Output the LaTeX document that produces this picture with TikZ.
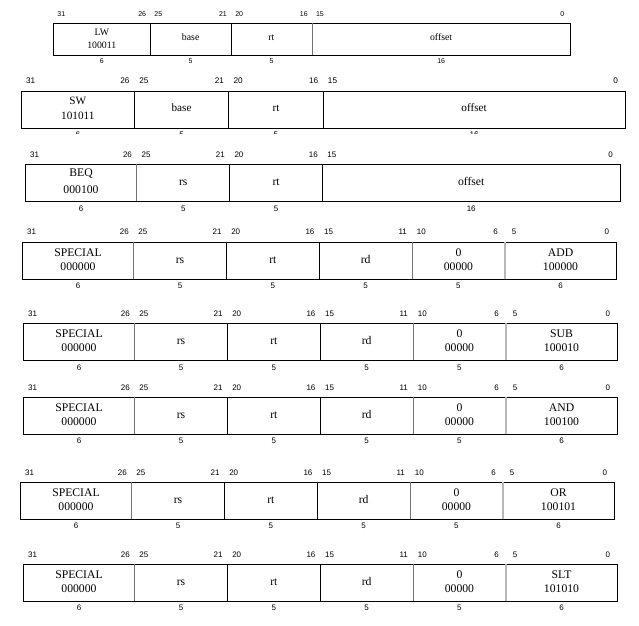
\documentclass[tikz,border=0pt]{standalone}
\usepackage{fontspec}
\setmainfont{Liberation Serif}
\newfontfamily\numfont{Liberation Sans}

% row geometry: name, x0, ytop, bit width, height, top-label baseline, bottom-label baseline
\newcommand\rowgeom[7]{%
  \def\RN{#1}\def\RX{#2}\def\RY{#3}\def\RBW{#4}\def\RH{#5}%
  \def\RTB{#6}\def\RBB{#7}%
  \pgfmathsetmacro\RC{#3+#5/2}%
  \draw[boxline] (\RX,\RY) rectangle ({\RX+32*\RBW},{\RY+\RH});%
}
% row text: serif size, sans size, single-line offset, line1 offset, line2 offset
\newcommand\rowtext[5]{%
  \def\RFS{#1}\def\RNS{#2}\def\RS{#3}\def\RBa{#4}\def\RBb{#5}%
}
% one field: hi bit, lo bit, line 1, line 2 (may be empty), divider style
\newcommand\fld[5]{%
  \pgfmathsetmacro\xl{\RX+(31-#1)*\RBW}%
  \pgfmathsetmacro\xr{\RX+(32-#2)*\RBW}%
  \pgfmathsetmacro\xm{(\xl+\xr)/2}%
  \pgfmathtruncatemacro\nb{#1-#2+1}%
  \ifnum#1<31 \draw[#5] (\xl,\RY) -- (\xl,{\RY+\RH});\fi
  \node[numlbl] (\RN-h#1) at ({\RX+(31-#1+0.5)*\RBW},\RTB) {#1};
  \node[numlbl] (\RN-l#1) at ({\RX+(31-#2+0.5)*\RBW},\RTB) {#2};
  \node[numlbl] (\RN-w#1) at (\xm,\RBB) {\nb};
  \if\relax\detokenize{#4}\relax
    \node[fldtxt] (\RN-t#1) at (\xm,{\RC+\RS}) {#3};
  \else
    \node[fldtxt] (\RN-t#1) at (\xm,{\RC+\RBa}) {#3};
    \node[fldtxt] (\RN-u#1) at (\xm,{\RC+\RBb}) {#4};
  \fi
}
% R-type row: name, x0, ytop, top baseline, bottom baseline, mnemonic, code
\newcommand\rtype[7]{%
  \rowgeom{#1}{#2}{#3}{18.56}{37}{#4}{#5}%
  \rowtext{11.7}{8}{2.6}{-3.9}{9.9}%
  \fld{31}{26}{SPECIAL}{000000}{divk}%
  \fld{25}{21}{rs}{}{divg}%
  \fld{20}{16}{rt}{}{divk}%
  \fld{15}{11}{rd}{}{divk}%
  \fld{10}{6}{0}{00000}{divg}%
  \fld{5}{0}{#6}{#7}{divl}%
}

\begin{document}
\begin{tikzpicture}[x=1pt, y=-1pt,
  boxline/.style={draw=black, line width=0.7pt},
  divk/.style={draw=black, line width=0.7pt},
  divg/.style={draw=black!55, line width=0.7pt},
  divl/.style={draw=black!28, line width=1.4pt},
  numlbl/.style={font=\numfont\fontsize{\RNS}{\RNS}\selectfont, inner sep=0pt, anchor=base},
  fldtxt/.style={font=\fontsize{\RFS}{\RFS}\selectfont, inner sep=0pt, anchor=base}]
\useasboundingbox (0,0) rectangle (639,625);

% LW
\rowgeom{lw}{53.3}{23.3}{16.16}{32}{16.5}{63.5}
\rowtext{9.8}{7}{1.3}{-3.5}{9.5}
\fld{31}{26}{LW}{100011}{divk}
\fld{25}{21}{base}{}{divk}
\fld{20}{16}{rt}{}{divk}
\fld{15}{0}{offset}{}{divg}

% SW (its bottom labels are cut off)
\begin{scope}
\clip (0,0) rectangle (639,133.8);
\rowgeom{sw}{21.2}{91}{18.87}{37}{83.6}{137.5}
\rowtext{11.2}{8.2}{2}{-4.9}{10.2}
\fld{31}{26}{SW}{101011}{divk}
\fld{25}{21}{base}{}{divk}
\fld{20}{16}{rt}{}{divk}
\fld{15}{0}{offset}{}{divk}
\end{scope}

% BEQ
\rowgeom{beq}{25.3}{164}{18.58}{37.3}{157.9}{211.2}
\rowtext{11.7}{8}{3.2}{-6}{10.4}
\fld{31}{26}{BEQ}{000100}{divk}
\fld{25}{21}{rs}{}{divg}
\fld{20}{16}{rt}{}{divk}
\fld{15}{0}{offset}{}{divk}

% R-type rows
\rtype{add}{22.3}{242.3}{234.0}{288.4}{ADD}{100000}
\rtype{sub}{23.3}{323.3}{316.2}{370.2}{SUB}{100010}
\rtype{and}{23.3}{397.3}{390.2}{443.6}{AND}{100100}
\rtype{or}{20.3}{482.3}{475.2}{528.6}{OR}{100101}
\rtype{slt}{23.3}{564.3}{557.2}{610.6}{SLT}{101010}
\end{tikzpicture}
\end{document}
